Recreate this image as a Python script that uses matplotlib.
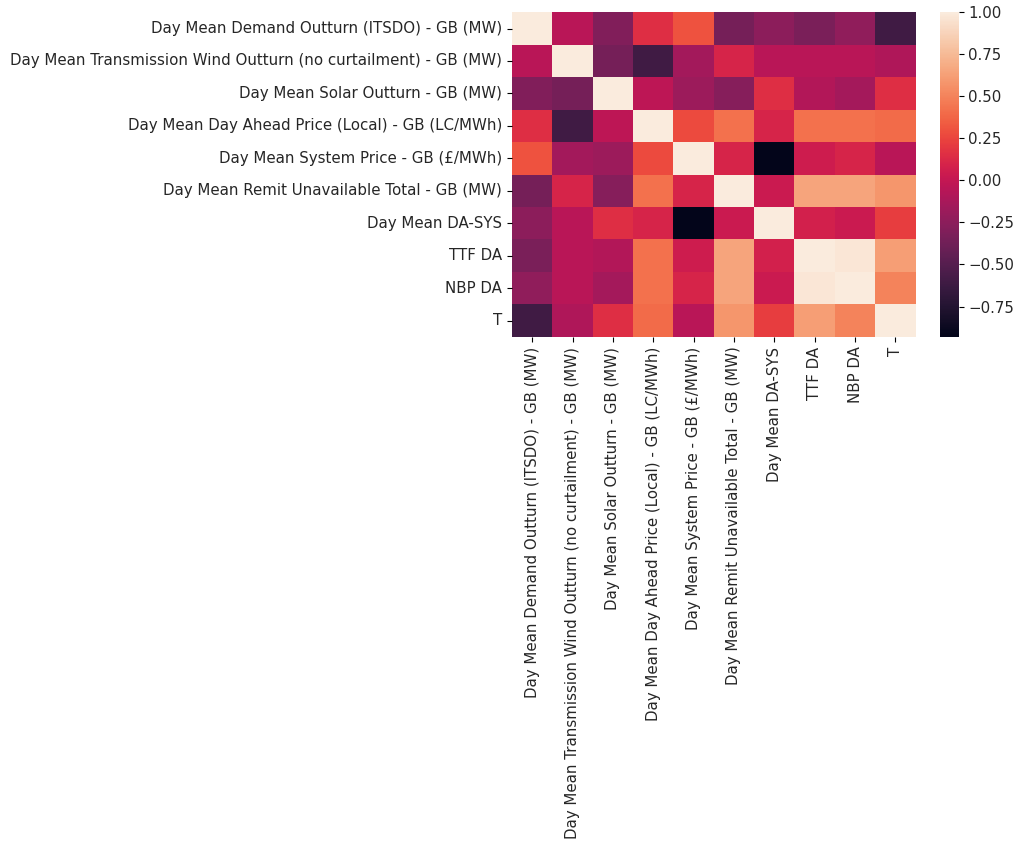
import numpy as np
import pandas as pd
import matplotlib
matplotlib.use('Agg')
import matplotlib.pyplot as plt
import seaborn as sns

labels = ['Day Mean Demand Outturn (ITSDO) - GB (MW)',
          'Day Mean Transmission Wind Outturn (no curtailment) - GB (MW)',
          'Day Mean Solar Outturn - GB (MW)',
          'Day Mean Day Ahead Price (Local) - GB (LC/MWh)',
          'Day Mean System Price - GB (£/MWh)',
          'Day Mean Remit Unavailable Total - GB (MW)',
          'Day Mean DA-SYS',
          'TTF DA',
          'NBP DA',
          'T']

# correlation values, row by row
corr_rows = [
    [1.00, -0.05, -0.30, 0.15, 0.30, -0.35, -0.25, -0.33, -0.23, -0.60],
    [-0.05, 1.00, -0.35, -0.60, -0.15, 0.10, -0.05, -0.05, -0.05, -0.10],
    [-0.30, -0.35, 1.00, -0.03, -0.18, -0.28, 0.15, -0.08, -0.14, 0.15],
    [0.15, -0.60, -0.03, 1.00, 0.27, 0.42, 0.10, 0.42, 0.42, 0.40],
    [0.30, -0.15, -0.18, 0.27, 1.00, 0.10, -0.93, 0.05, 0.10, -0.05],
    [-0.35, 0.10, -0.28, 0.42, 0.10, 1.00, 0.03, 0.65, 0.65, 0.58],
    [-0.25, -0.05, 0.15, 0.10, -0.93, 0.03, 1.00, 0.08, 0.03, 0.22],
    [-0.33, -0.05, -0.08, 0.42, 0.05, 0.65, 0.08, 1.00, 0.97, 0.62],
    [-0.23, -0.05, -0.14, 0.42, 0.10, 0.65, 0.03, 0.97, 1.00, 0.50],
    [-0.60, -0.10, 0.15, 0.40, -0.05, 0.58, 0.22, 0.62, 0.50, 1.00],
]

corr = pd.DataFrame(corr_rows, index=labels, columns=labels)

fig = plt.figure(figsize=(10.15, 8.43), dpi=100)
ax = fig.add_axes([0.5045, 0.6005, 0.3975, 0.3849])
cax = fig.add_axes([0.926, 0.6005, 0.0185, 0.3849])

sns.heatmap(corr, ax=ax, cbar_ax=cax)
ax.tick_params(labelsize=10.8, labelcolor='#262626')
cax.tick_params(labelsize=10.8, labelcolor='#262626')

fig.savefig('out.png', dpi=100)
